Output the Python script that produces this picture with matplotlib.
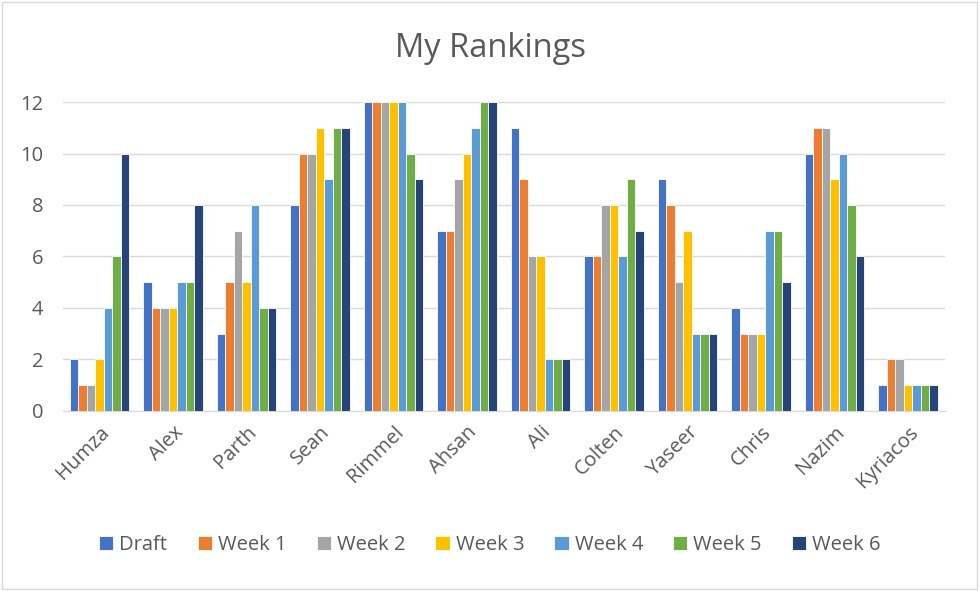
import numpy as np
import matplotlib
matplotlib.use("Agg")
import matplotlib.pyplot as plt
from matplotlib.patches import Rectangle

players = ["Humza", "Alex", "Parth", "Sean", "Rimmel", "Ahsan", "Ali",
           "Colten", "Yaseer", "Chris", "Nazim", "Kyriacos"]
draft = [2, 5, 3, 8, 12, 7, 11, 6, 9, 4, 10, 1]
week1 = [1, 4, 5, 10, 12, 7, 9, 6, 8, 3, 11, 2]
week2 = [1, 4, 7, 10, 12, 9, 6, 8, 5, 3, 11, 2]
week3 = [2, 4, 5, 11, 12, 10, 6, 8, 7, 3, 9, 1]
week4 = [4, 5, 8, 9, 12, 11, 2, 6, 3, 7, 10, 1]
week5 = [6, 5, 4, 11, 10, 12, 2, 9, 3, 7, 8, 1]
week6 = [10, 8, 4, 11, 9, 12, 2, 7, 3, 5, 6, 1]

series = [("Draft", draft), ("Week 1", week1), ("Week 2", week2), ("Week 3", week3),
          ("Week 4", week4), ("Week 5", week5), ("Week 6", week6)]
colors = ["#4472C4", "#ED7D31", "#A5A5A5", "#FFC000", "#5B9BD5", "#70AD47", "#264478"]

plt.rcParams['font.family'] = ['Open Sans', 'DejaVu Sans']
text_color = "#595959"

fig = plt.figure(figsize=(9.8, 5.91), dpi=100)
ax = fig.add_axes([0.064, 0.3046, 0.9, 0.5228])

x = np.arange(len(players))
bw = 0.115
for i, (name, vals) in enumerate(series):
    offset = (i - 3) * bw
    ax.bar(x + offset, vals, width=bw, color=colors[i], edgecolor="white",
           linewidth=0.6, label=name, zorder=3)

ax.set_xlim(-0.5, len(players) - 0.5)
ax.set_ylim(0, 12)
ax.set_yticks(range(0, 13, 2))
ax.yaxis.grid(True, color="#D9D9D9", linewidth=1, zorder=0)
ax.set_axisbelow(True)
for s in ["top", "right", "left"]:
    ax.spines[s].set_visible(False)
ax.spines["bottom"].set_color("#D9D9D9")
ax.tick_params(axis="both", length=0, labelsize=14.5, colors=text_color, pad=8)
ax.tick_params(axis="y", pad=14)
ax.set_xticks(x)
ax.set_xticklabels(players, rotation=45, ha="right", rotation_mode="anchor")

fig.text(0.5, 0.918, "My Rankings", ha="center", va="center", fontsize=23.5, color=text_color)

handles, labels = ax.get_legend_handles_labels()
fig.legend(handles, labels, loc="center", bbox_to_anchor=(0.5, 0.077), ncol=7,
           frameon=False, fontsize=14.5, handlelength=0.7, handleheight=0.7,
           handletextpad=0.3, columnspacing=1.5, labelcolor=text_color)

fig.patches.append(Rectangle((0.002, 0.003), 0.995, 0.994, transform=fig.transFigure,
                             fill=False, edgecolor="#D9D9D9", linewidth=1))

fig.savefig("out.png", dpi=100)
